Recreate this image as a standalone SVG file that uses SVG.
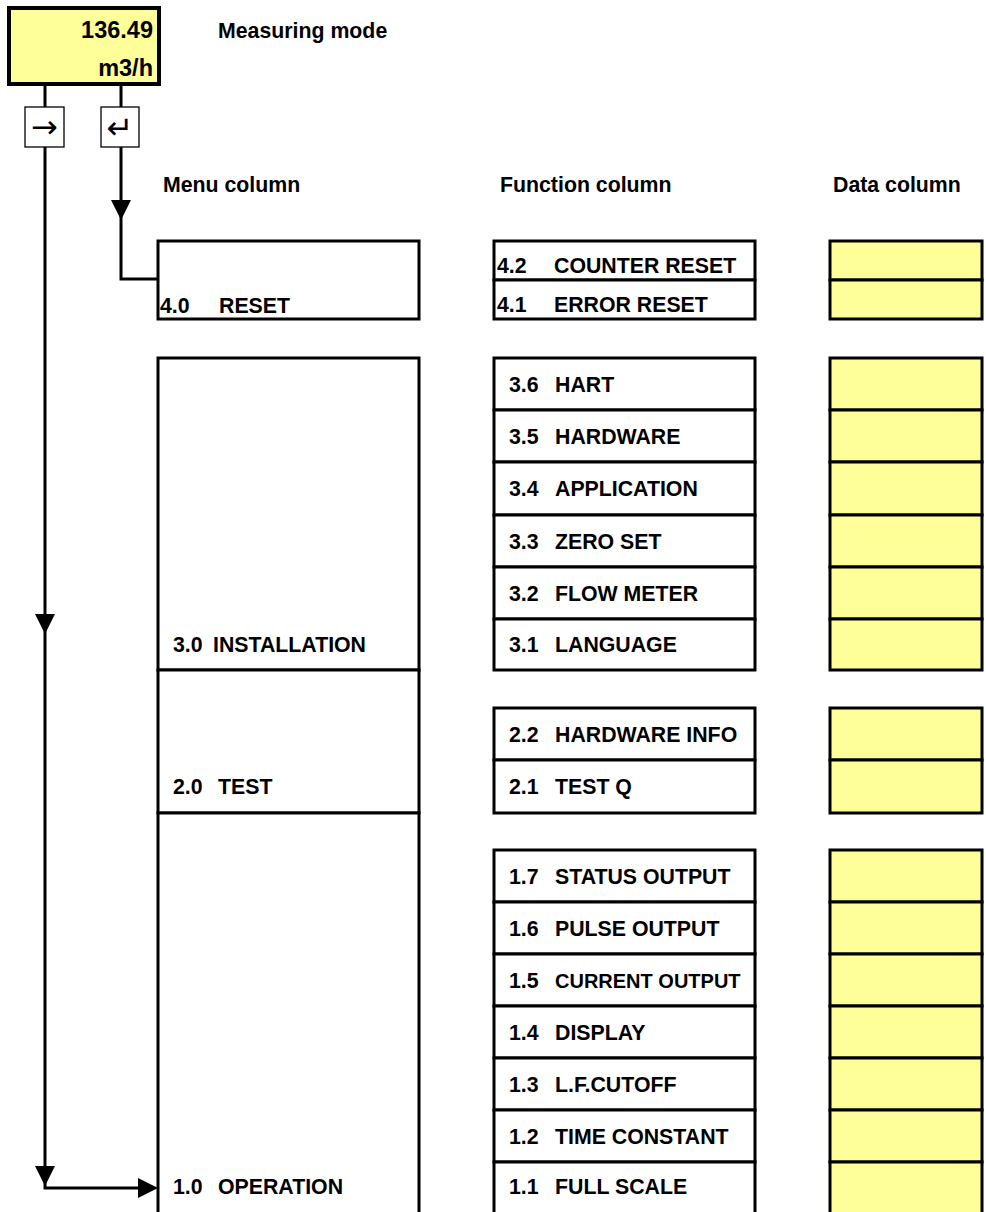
<svg xmlns="http://www.w3.org/2000/svg" width="986" height="1212" viewBox="0 0 986 1212">
<style>
.t{font-family:"Liberation Sans",Arial,sans-serif;font-weight:bold;font-size:21.3px;fill:#000}
.d{font-family:"Liberation Sans",Arial,sans-serif;font-weight:bold;font-size:23.5px;fill:#000}
.k{font-family:"DejaVu Sans",sans-serif;font-size:32px;fill:#000}
.w{fill:#fff;stroke:#000;stroke-width:3}
.y{fill:#ffff99;stroke:#000;stroke-width:3}
.key{fill:#fff;stroke:#000;stroke-width:1.3}
.ln{fill:none;stroke:#000;stroke-width:3}
</style>
<rect width="986" height="1212" fill="#fff"/>

<g id="display">
<rect x="9" y="8" width="150" height="76" fill="#ffff99" stroke="#000" stroke-width="4"/>
<text class="d" x="153" y="38" text-anchor="end">136.49</text>
<text class="d" x="153" y="76" text-anchor="end">m3/h</text>
</g>
<text class="t" x="218" y="38">Measuring mode</text>

<g id="connectors">
<path class="ln" d="M45 86V107M121 86V107"/>
<path class="ln" d="M121 147V279H158"/>
<path class="ln" d="M45 147V1188H140"/>
<polygon points="111,200 131,200 121,220" fill="#000"/>
<polygon points="35,614 55,614 45,634" fill="#000"/>
<polygon points="35,1166 55,1166 45,1186" fill="#000"/>
<polygon points="138,1178 138,1198 158,1188" fill="#000"/>
</g>

<g id="key-next">
<rect class="key" x="25" y="107" width="39" height="40"/>
<text class="k" x="44.5" y="138" text-anchor="middle">→</text>
</g>
<g id="key-enter">
<rect class="key" x="101" y="107" width="38" height="40"/>
<text class="k" x="120" y="139" text-anchor="middle">↵</text>
</g>

<text class="t" x="163" y="192">Menu column</text>
<text class="t" x="500" y="192">Function column</text>
<text class="t" x="833" y="192">Data column</text>

<!-- Menu column -->
<g id="m4"><rect class="w" x="158" y="241" width="261" height="78"/><text class="t" x="160" y="313">4.0</text><text class="t" x="219" y="313">RESET</text></g>
<g id="m3"><rect class="w" x="158" y="358" width="261" height="312"/><text class="t" x="173" y="652">3.0</text><text class="t" x="213" y="652">INSTALLATION</text></g>
<g id="m2"><rect class="w" x="158" y="670" width="261" height="143"/><text class="t" x="173" y="794">2.0</text><text class="t" x="218" y="794">TEST</text></g>
<g id="m1"><rect class="w" x="158" y="813" width="261" height="420"/><text class="t" x="173" y="1194">1.0</text><text class="t" x="218" y="1194">OPERATION</text></g>

<!-- Function column -->
<g id="f42"><rect class="w" x="494" y="241" width="261" height="39"/><text class="t" x="497" y="273">4.2</text><text class="t" x="554" y="273">COUNTER RESET</text></g>
<g id="f41"><rect class="w" x="494" y="280" width="261" height="39"/><text class="t" x="497" y="312">4.1</text><text class="t" x="554" y="312">ERROR RESET</text></g>

<g id="f36"><rect class="w" x="494" y="358" width="261" height="52"/><text class="t" x="509" y="392">3.6</text><text class="t" x="555" y="392">HART</text></g>
<g id="f35"><rect class="w" x="494" y="410" width="261" height="52"/><text class="t" x="509" y="444">3.5</text><text class="t" x="555" y="444">HARDWARE</text></g>
<g id="f34"><rect class="w" x="494" y="462" width="261" height="53"/><text class="t" x="509" y="496">3.4</text><text class="t" x="555" y="496">APPLICATION</text></g>
<g id="f33"><rect class="w" x="494" y="515" width="261" height="52"/><text class="t" x="509" y="549">3.3</text><text class="t" x="555" y="549">ZERO SET</text></g>
<g id="f32"><rect class="w" x="494" y="567" width="261" height="52"/><text class="t" x="509" y="601">3.2</text><text class="t" x="555" y="601">FLOW METER</text></g>
<g id="f31"><rect class="w" x="494" y="619" width="261" height="51"/><text class="t" x="509" y="652">3.1</text><text class="t" x="555" y="652">LANGUAGE</text></g>

<g id="f22"><rect class="w" x="494" y="708" width="261" height="52"/><text class="t" x="509" y="742">2.2</text><text class="t" x="555" y="742">HARDWARE INFO</text></g>
<g id="f21"><rect class="w" x="494" y="760" width="261" height="53"/><text class="t" x="509" y="794">2.1</text><text class="t" x="555" y="794">TEST Q</text></g>

<g id="f17"><rect class="w" x="494" y="850" width="261" height="52"/><text class="t" x="509" y="884">1.7</text><text class="t" x="555" y="884">STATUS OUTPUT</text></g>
<g id="f16"><rect class="w" x="494" y="902" width="261" height="52"/><text class="t" x="509" y="936">1.6</text><text class="t" x="555" y="936">PULSE OUTPUT</text></g>
<g id="f15"><rect class="w" x="494" y="954" width="261" height="52"/><text class="t" x="509" y="988">1.5</text><text class="t" x="555" y="988" style="font-size:20px">CURRENT OUTPUT</text></g>
<g id="f14"><rect class="w" x="494" y="1006" width="261" height="52"/><text class="t" x="509" y="1040">1.4</text><text class="t" x="555" y="1040">DISPLAY</text></g>
<g id="f13"><rect class="w" x="494" y="1058" width="261" height="52"/><text class="t" x="509" y="1092">1.3</text><text class="t" x="555" y="1092">L.F.CUTOFF</text></g>
<g id="f12"><rect class="w" x="494" y="1110" width="261" height="52"/><text class="t" x="509" y="1144">1.2</text><text class="t" x="555" y="1144">TIME CONSTANT</text></g>
<g id="f11"><rect class="w" x="494" y="1162" width="261" height="70"/><text class="t" x="509" y="1194">1.1</text><text class="t" x="555" y="1194">FULL SCALE</text></g>

<!-- Data column -->
<g id="d42"><rect class="y" x="830" y="241" width="152" height="39"/></g>
<g id="d41"><rect class="y" x="830" y="280" width="152" height="39"/></g>
<g id="d36"><rect class="y" x="830" y="358" width="152" height="52"/></g>
<g id="d35"><rect class="y" x="830" y="410" width="152" height="52"/></g>
<g id="d34"><rect class="y" x="830" y="462" width="152" height="53"/></g>
<g id="d33"><rect class="y" x="830" y="515" width="152" height="52"/></g>
<g id="d32"><rect class="y" x="830" y="567" width="152" height="52"/></g>
<g id="d31"><rect class="y" x="830" y="619" width="152" height="51"/></g>
<g id="d22"><rect class="y" x="830" y="708" width="152" height="52"/></g>
<g id="d21"><rect class="y" x="830" y="760" width="152" height="53"/></g>
<g id="d17"><rect class="y" x="830" y="850" width="152" height="52"/></g>
<g id="d16"><rect class="y" x="830" y="902" width="152" height="52"/></g>
<g id="d15"><rect class="y" x="830" y="954" width="152" height="52"/></g>
<g id="d14"><rect class="y" x="830" y="1006" width="152" height="52"/></g>
<g id="d13"><rect class="y" x="830" y="1058" width="152" height="52"/></g>
<g id="d12"><rect class="y" x="830" y="1110" width="152" height="52"/></g>
<g id="d11"><rect class="y" x="830" y="1162" width="152" height="70"/></g>
</svg>
